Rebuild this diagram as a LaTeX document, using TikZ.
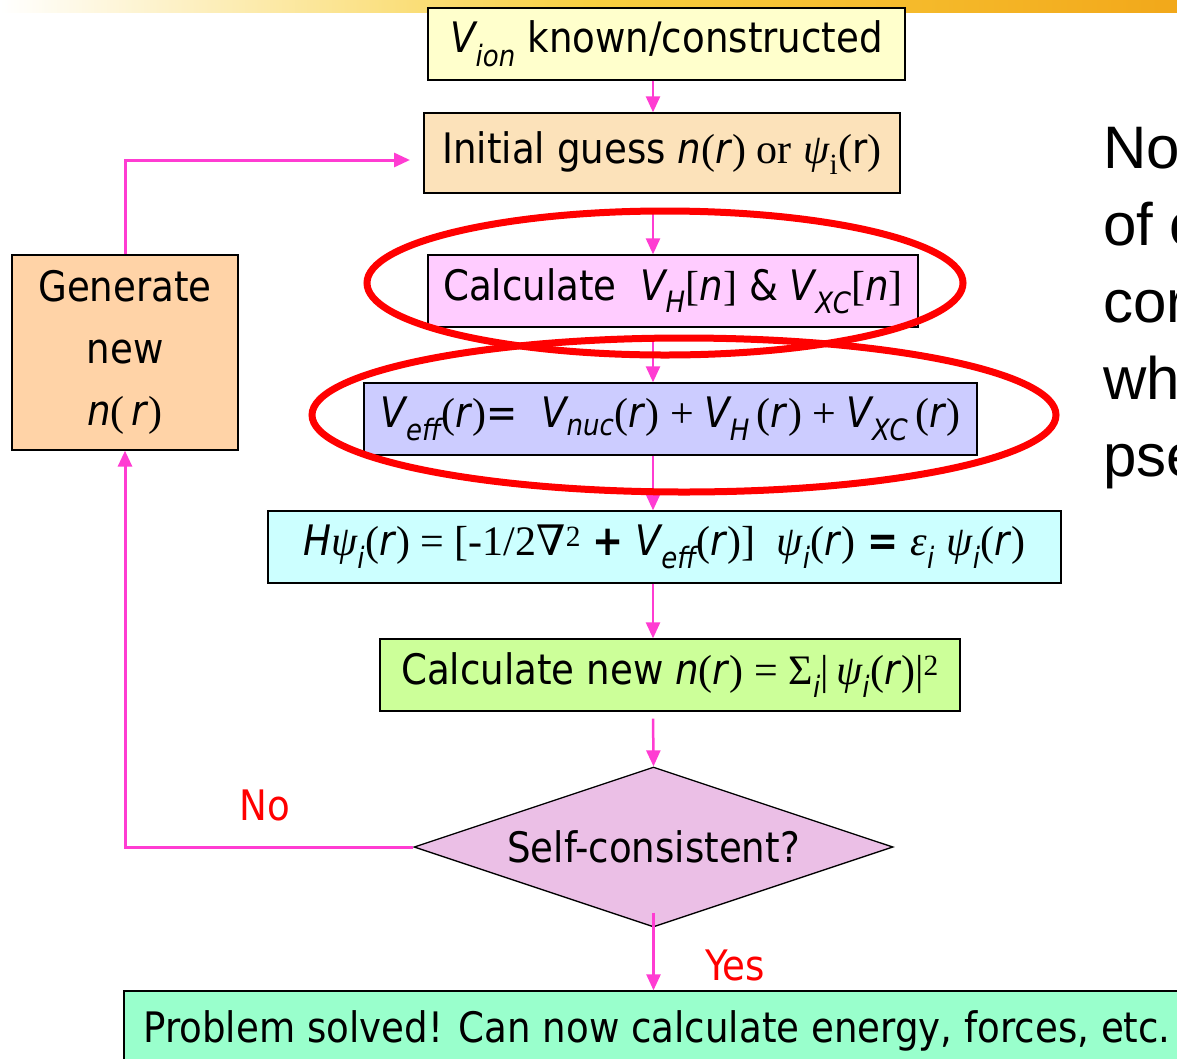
\documentclass[tikz,border=0pt]{standalone}
\usepackage{fontspec}
\setmainfont{DejaVu Sans}[FakeStretch=0.885]
\newfontfamily\tms{Liberation Serif}
\newfontfamily\djs{DejaVu Serif}
\newfontfamily\arl{Liberation Sans}
\usetikzlibrary{arrows.meta,shapes.geometric}
\definecolor{cA}{HTML}{FFFFCC}
\definecolor{cB}{HTML}{FCE2BA}
\definecolor{cC}{HTML}{FFCCFF}
\definecolor{cD}{HTML}{CCCCFF}
\definecolor{cE}{HTML}{CCFFFF}
\definecolor{cF}{HTML}{CCFF99}
\definecolor{cG}{HTML}{EBBFE6}
\definecolor{cH}{HTML}{99FFCC}
\definecolor{cL}{HTML}{FFD3A7}
\definecolor{mag}{HTML}{FF3CD2}
\definecolor{banY}{HTML}{F8D040}
\definecolor{banO}{HTML}{F2A81A}
\newcommand\It[1]{\textit{#1}}
\newcommand\Tm[1]{{\tms #1}}
\newcommand\mypsi{{\tms\itshape ψ}}
\newcommand\myeps{{\tms\itshape ε}}
\newcommand\mynabla{{\djs ∇}}
\tikzset{
  bx/.style={draw=black, line width=1.3pt, inner sep=0pt, anchor=center,
    font=\fontsize{42}{50}\selectfont},
  arr/.style={draw=mag, line width=2.5pt, -{Triangle[width=14pt,length=16pt]}},
  loopl/.style={draw=mag, line width=3pt, -{Triangle[width=14pt,length=16pt]}},
  lbl/.style={text=red, font=\fontsize{42}{50}\selectfont, inner sep=0pt},
  rtxt/.style={anchor=base west, inner sep=0pt, font=\arl\fontsize{60}{72}\selectfont},
  ring/.style={draw=red, line width=7pt}
}
\begin{document}
\begin{tikzpicture}[x=1pt,y=-1pt]
\useasboundingbox (0,0) rectangle (1177,1058);
\clip (0,0) rectangle (1177,1058);
% banner
\shade[left color=white, right color=banO, middle color=banY] (0,0) rectangle (1177,12);
\coordinate (ax) at (653,0);
% boxes
\node[bx, fill=cA, minimum width=477, minimum height=72] (v) at (666.5,44)
  {\It{V\textsubscript{ion}} known/constructed};
\node[bx, fill=cB, minimum width=476, minimum height=80] (g) at (662,153)
  {Initial guess \It{n}\Tm{(}\It{r}\Tm{) or} \mypsi\textsubscript{\tms i}\Tm{(}r\Tm{)}};
\node[bx, fill=cC, minimum width=490, minimum height=72] (c) at (673,291)
  {Calculate \ \It{V\textsubscript{H}}\Tm{[}\It{n}\Tm{]} \& \It{V\textsubscript{XC}}\Tm{[}\It{n}\Tm{]}};
\node[bx, fill=cD, minimum width=613, minimum height=72] (e) at (670.5,419)
  {\It{V\textsubscript{eff}}\Tm{(}\It{r}\Tm{)}= \ \It{V\textsubscript{nuc}}\Tm{(}\It{r}\Tm{) + }\It{V\textsubscript{H}}\Tm{\,(}\It{r}\Tm{) + }\It{V\textsubscript{XC}}\Tm{\,(}\It{r}\Tm{)}};
\node[bx, fill=cE, minimum width=793, minimum height=72] (h) at (664.5,547)
  {\It{H}\mypsi\textsubscript{\It{i}}\Tm{(}\It{r}\Tm{) = [-1/2}\mynabla\textsuperscript{\tms 2} \textbf{+} \It{V\textsubscript{eff}}\Tm{(}\It{r}\Tm{)] \ }\mypsi\textsubscript{\It{i}}\Tm{(}\It{r}\Tm{)} \textbf{=} \myeps\textsubscript{\It{i}} \mypsi\textsubscript{\It{i}}\Tm{(}\It{r}\Tm{)}};
\node[bx, fill=cF, minimum width=580, minimum height=72] (n) at (670,675)
  {Calculate new \It{n}\Tm{(}\It{r}\Tm{) = Σ}\textsubscript{\It{i}}\Tm{|\,}\mypsi\textsubscript{\It{i}}\Tm{(}\It{r}\Tm{)|}\textsuperscript{\tms 2}};
\node[bx, diamond, aspect=3, fill=cG, minimum width=479, minimum height=160] (d) at (653.5,847)
  {Self-consistent?};
\node[bx, fill=cH, minimum width=1066, minimum height=79] (p) at (657,1030.5)
  {Problem solved! Can now calculate energy, forces, etc.};
\node[bx, fill=cL, minimum width=226, minimum height=195, align=center] (l) at (125,352.5)
  {Generate\\[12pt]new\\[12pt]\It{n}\Tm{(}\,\It{r}\Tm{)}};
% arrows
\draw[arr] (v.south -| ax) -- (g.north -| ax);
\draw[arr, shorten <=17pt] (g.south -| ax) -- (c.north -| ax);
\draw[arr, shorten <=13pt] (c.south -| ax) -- (e.north -| ax);
\draw[arr] (e.south -| ax) -- (h.north -| ax);
\draw[arr] (h.south -| ax) -- (n.north -| ax);
\draw[arr, shorten <=7pt] (n.south -| ax) -- (d.north);
\draw[arr] ([yshift=15pt]d.south) -- (p.north -| d.south);
\coordinate (gin) at (410,160);
\draw[loopl] (d.west) -| (l.south);
\draw[loopl] (l.north) |- (gin);
% labels
\node[lbl] (no) at (265,805) {No};
\node[lbl] (yes) at (735,965) {Yes};
% red rings
\draw[ring] (665,283) ellipse [x radius=298, y radius=72];
\draw[ring] (684,415) ellipse [x radius=372, y radius=77];
% right text
\node[rtxt] (t1) at (1103,168) {No};
\node[rtxt] (t2) at (1103,245) {of c};
\node[rtxt] (t3) at (1103,322) {cor};
\node[rtxt] (t4) at (1103,399) {wh};
\node[rtxt] (t5) at (1103,476) {pse};
\end{tikzpicture}
\end{document}
